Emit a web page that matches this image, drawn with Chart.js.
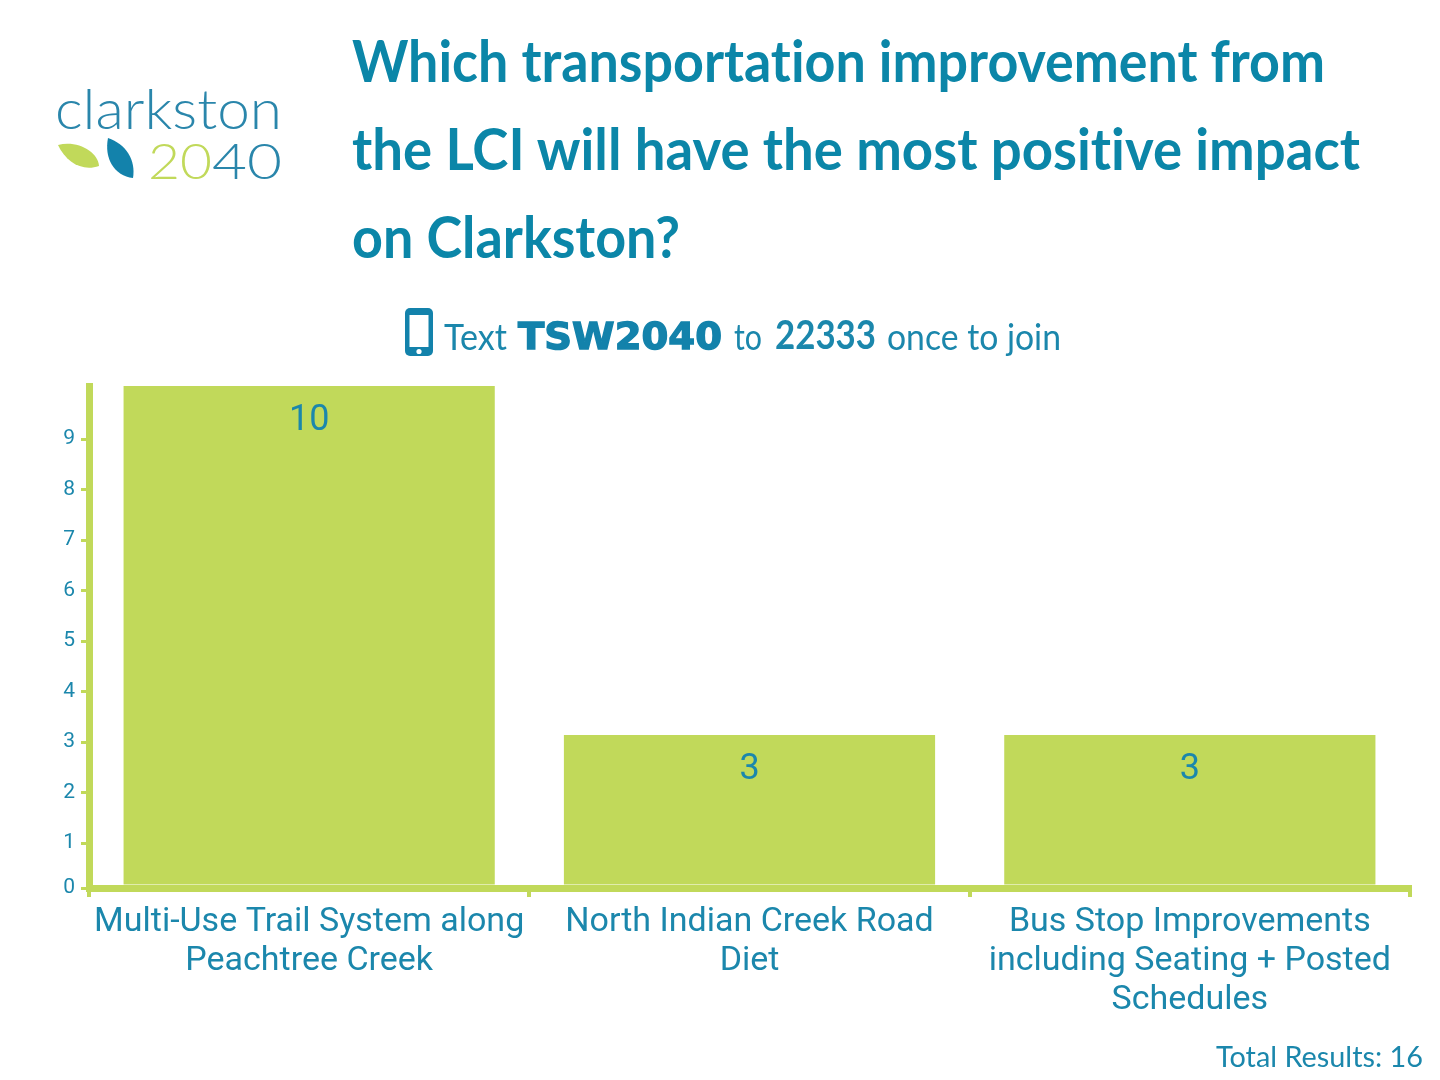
<!DOCTYPE html>
<html>
<head>
<meta charset="utf-8">
<title>Clarkston 2040 poll</title>
<script src="https://cdn.jsdelivr.net/npm/chart.js@4"></script>
<style>
  html, body { margin: 0; padding: 0; background: #fff; }
  #page { position: relative; width: 1440px; height: 1080px; overflow: hidden; font-family: Lato, "Noto Sans", sans-serif; font-variant-ligatures: none; color: #1b87ac; }
  #tempChart { position: absolute; left: 0; top: 0; }
  #logo { position: absolute; left: 40px; top: 70px; }
  .fit { position: absolute; white-space: nowrap; transform-origin: 0 50%; }
  .title { left: 352px; font-weight: 700; font-size: 58px; line-height: 70px; color: #0b86a8; }
  .join { top: 305px; font-size: 36px; line-height: 62px; }
  #phone { position: absolute; left: 404px; top: 307px; }
  #total { left: 1216px; top: 1039px; font-size: 29px; line-height: 34px; }
</style>
</head>
<body>
<div id="page">
  <canvas id="tempChart" width="1440" height="1080"></canvas>

  <svg id="logo" width="260" height="130" viewBox="0 0 260 130">
    <text x="15" y="59" font-family="Lato" font-weight="300" font-size="55" textLength="227" lengthAdjust="spacingAndGlyphs" fill="#2a86ab">clarkston</text>
    <path d="M18 75 C38 70 58 82 59 96 C42 102 26 92 18 75 Z" fill="#c1d95a"/>
    <path d="M68 68 C86 74 96 90 93 108 C74 106 64 88 68 68 Z" fill="#1382ab"/>
    <text x="108" y="109" font-family="Lato" font-weight="300" font-size="50" textLength="64" lengthAdjust="spacingAndGlyphs" fill="#c1d95a">20</text>
    <text x="172" y="109" font-family="Lato" font-weight="300" font-size="50" textLength="70" lengthAdjust="spacingAndGlyphs" fill="#2a86ab">40</text>
  </svg>

  <div class="fit title" data-w="973" style="top:25px">Which transportation improvement from</div>
  <div class="fit title" data-w="1008" style="top:113px">the LCI will have the most positive impact</div>
  <div class="fit title" data-w="328" style="top:201px">on Clarkston?</div>

  <svg id="phone" width="30" height="50" viewBox="0 0 30 50">
    <rect x="1" y="1" width="28" height="48" rx="5" fill="#1382ab"/>
    <rect x="5.5" y="8" width="19" height="32" fill="#fff"/>
    <circle cx="15" cy="44.5" r="2.6" fill="#fff"/>
  </svg>
  <div class="fit join" data-w="63" style="left:444px">Text</div>
  <div class="fit join" data-w="204" style="left:518px;font-family:'DejaVu Sans';font-weight:700;font-size:38px;-webkit-text-stroke:1.4px #1382ab;color:#1382ab">TSW2040</div>
  <div class="fit join" data-w="28" style="left:734px">to</div>
  <div class="fit join" data-w="101" style="left:775px;font-weight:700;font-size:40px;line-height:58px">22333</div>
  <div class="fit join" data-w="174" style="left:887px">once to join</div>

  <div class="fit" id="total" data-w="207">Total Results: 16</div>
</div>

<script>
(function(){
  const categories = [
    ['Multi-Use Trail System along', 'Peachtree Creek'],
    ['North Indian Creek Road', 'Diet'],
    ['Bus Stop Improvements', 'including Seating + Posted', 'Schedules']
  ];
  const votes = [10, 3, 3];
  const yTicks = [0, 1, 2, 3, 4, 5, 6, 7, 8, 9];

  const GREEN = '#c1d95a';
  const BLUE = '#1b87ac';
  const FONT = 'Roboto, "Noto Sans", sans-serif';

  // squeeze header text to the measured width, no narrow font is installed
  document.querySelectorAll('.fit').forEach(el => {
    const w = el.getBoundingClientRect().width;
    el.style.transform = 'scaleX(' + (Number(el.dataset.w) / w) + ')';
  });

  // the vote count sits inside the top of each bar
  const valueLabels = {
    id: 'valueLabels',
    afterDatasetsDraw(chart){
      const ctx = chart.ctx;
      const meta = chart.getDatasetMeta(0);
      ctx.save();
      ctx.fillStyle = BLUE;
      ctx.font = '36px ' + FONT;
      ctx.textAlign = 'center';
      ctx.textBaseline = 'middle';
      meta.data.forEach((bar, i) => {
        ctx.fillText(String(votes[i]), bar.x, bar.y + 35);
      });
      ctx.restore();
    }
  };

  new Chart(document.getElementById('tempChart'), {
    type: 'bar',
    data: {
      labels: categories,
      datasets: [{
        data: votes,
        yAxisID: 'y',
        backgroundColor: GREEN,
        borderWidth: 0,
        categoryPercentage: 1,
        barPercentage: 0.843
      }]
    },
    plugins: [valueLabels],
    options: {
      responsive: false,
      animation: false,
      devicePixelRatio: 1,
      layout: { padding: { top: 386, right: 30, left: 0, bottom: 0 } },
      plugins: { legend: { display: false }, tooltip: { enabled: false } },
      scales: {
        x: {
          afterFit: (scale) => { scale.height = 192; },
          grid: { drawOnChartArea: false, color: GREEN, lineWidth: 4, tickLength: 9 },
          border: { color: GREEN, width: 7 },
          ticks: {
            color: BLUE,
            font: { family: FONT, size: 34, lineHeight: 1.147 },
            padding: 6,
            maxRotation: 0,
            autoSkip: false
          }
        },
        // bars use this one, it stays hidden
        y: { display: false, min: -0.07, max: 10 },
        // the printed axis: its ticks sit a little off the bars in the original
        y1: {
          position: 'left',
          min: 0.11,
          max: 10.05,
          afterFit: (scale) => { scale.width = 89; },
          afterBuildTicks: (scale) => {
            scale.ticks = yTicks.map(v => ({ value: Math.max(v, scale.min) }));
          },
          grid: { drawOnChartArea: false, color: GREEN, lineWidth: 3, tickLength: 8 },
          border: { color: GREEN, width: 7 },
          ticks: {
            color: BLUE,
            font: { family: FONT, size: 21 },
            padding: 6,
            autoSkip: false,
            callback: (value) => String(Math.floor(value))
          }
        }
      }
    }
  });
})();
</script>
</body>
</html>
